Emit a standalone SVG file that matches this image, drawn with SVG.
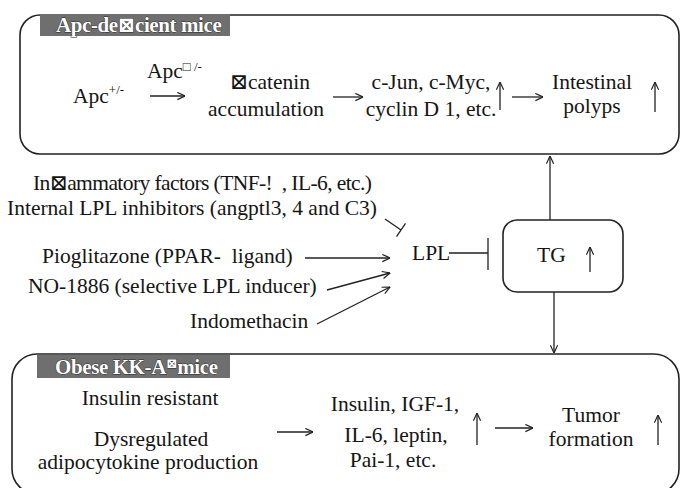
<svg xmlns="http://www.w3.org/2000/svg" width="681" height="488" viewBox="0 0 681 488">
<style>
text{font-family:"Liberation Serif","Times New Roman","DejaVu Serif",serif;fill:#151515;font-size:21.5px}
.m{text-anchor:middle}
.pre{white-space:pre}
.sup{font-size:13px}
.box{fill:none;stroke:#222;stroke-width:1.6}
.bar{fill:#6f6f6f}
.ttl{font-size:21px;font-weight:bold;fill:#fff;stroke:#2a2a2a;stroke-width:0.9;paint-order:stroke;letter-spacing:-0.4px}
.ln{fill:none;stroke:#222;stroke-width:1.3}
</style>
<defs>
<marker id="ah" viewBox="0 0 10 10" refX="9.5" refY="5" markerWidth="9" markerHeight="9" markerUnits="userSpaceOnUse" orient="auto">
<path d="M1,1 L9.5,5 L1,9" fill="none" stroke="#222" stroke-width="1.3"/>
</marker>
</defs>

<g id="apc-box">
<rect class="box" x="20" y="15" width="659" height="139" rx="20"/>
<rect class="bar" x="40" y="14" width="190" height="22"/>
<text class="ttl" x="56" y="32">Apc-de⊠cient mice</text>
<text x="73" y="103">Apc<tspan class="sup" dy="-9">+/-</tspan></text>
<text x="147" y="78" xml:space="preserve">Apc<tspan class="sup pre" dy="-7">□ /-</tspan></text>
<text class="m" x="270" y="89">⊠catenin</text>
<text class="m" x="266" y="116">accumulation</text>
<text class="m" x="431" y="89">c-Jun, c-Myc,</text>
<text class="m" x="431" y="116">cyclin D 1, etc.</text>
<text class="m" x="592" y="89">Intestinal</text>
<text class="m" x="592" y="113">polyps</text>
<path class="ln" d="M500,110 V82" marker-end="url(#ah)"/>
<path class="ln" d="M655,112 V82" marker-end="url(#ah)"/>
</g>

<g id="factors">
<text class="pre" x="33" y="190" textLength="339" lengthAdjust="spacing" xml:space="preserve">In⊠ammatory factors (TNF-!  , IL-6, etc.)</text>
<text x="7" y="215">Internal LPL inhibitors (angptl3, 4 and C3)</text>
<text class="pre" x="42" y="263" xml:space="preserve">Pioglitazone (PPAR-  ligand)</text>
<text x="28" y="293">NO-1886 (selective LPL inducer)</text>
<text x="190" y="328">Indomethacin</text>
</g>

<g id="lpl">
<text x="412" y="260">LPL</text>
</g>

<g id="tg">
<rect class="box" x="503" y="220" width="120" height="72" rx="14"/>
<text x="537" y="262">TG</text>
<path class="ln" d="M590,272 V247" marker-end="url(#ah)"/>
</g>

<g id="obese-box">
<rect class="box" x="12" y="354" width="667" height="140" rx="25"/>
<rect class="bar" x="37" y="355" width="193" height="23"/>
<text class="ttl" x="55" y="374">Obese KK-A<tspan font-size="14px" dy="-6">⊠</tspan><tspan dy="6">mice</tspan></text>
<text class="m" x="150" y="405">Insulin resistant</text>
<text class="m" x="151" y="446">Dysregulated</text>
<text class="m" x="148" y="469">adipocytokine production</text>
<text class="m" x="395" y="411">Insulin, IGF-1,</text>
<text class="m" x="396" y="442">IL-6, leptin,</text>
<text class="m" x="393" y="467">Pai-1, etc.</text>
<text class="m" x="591" y="422">Tumor</text>
<text class="m" x="591" y="446">formation</text>
<path class="ln" d="M477,445 V413" marker-end="url(#ah)"/>
<path class="ln" d="M658,445 V415" marker-end="url(#ah)"/>
</g>

<g id="connectors">
<path class="ln" d="M150,96 H185" marker-end="url(#ah)"/>
<path class="ln" d="M333,97 H363" marker-end="url(#ah)"/>
<path class="ln" d="M512,97 H543" marker-end="url(#ah)"/>
<path class="ln" d="M305,258 H390" marker-end="url(#ah)"/>
<path class="ln" d="M327,290 L390,273" marker-end="url(#ah)"/>
<path class="ln" d="M317,324 L390,287" marker-end="url(#ah)"/>
<path class="ln" d="M385,219 L401,230 M396.5,236.6 L405.5,223.4"/>
<path class="ln" d="M449,253 H488 M488,238 V270"/>
<path class="ln" d="M550,220 V156" marker-end="url(#ah)"/>
<path class="ln" d="M554,292 V353" marker-end="url(#ah)"/>
<path class="ln" d="M277,432 H313" marker-end="url(#ah)"/>
<path class="ln" d="M495,428 H533" marker-end="url(#ah)"/>
</g>
</svg>
